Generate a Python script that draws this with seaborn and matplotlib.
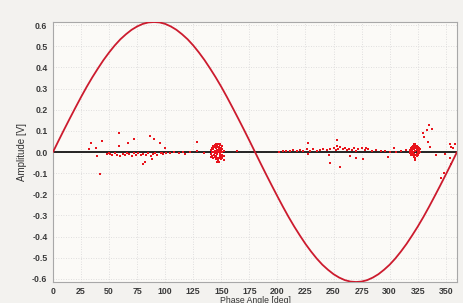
import numpy as np
import pandas as pd
import matplotlib
matplotlib.use("Agg")
import matplotlib.pyplot as plt
import seaborn as sns

# ---- data ----
phase_deg = list(range(0, 361, 5))
curve_amp = [0.000, 0.054, 0.107, 0.159, 0.210, 0.260, 0.308, 0.353, 0.395, 0.435,
             0.471, 0.504, 0.533, 0.557, 0.578, 0.594, 0.606, 0.613, 0.615, 0.613,
             0.606, 0.594, 0.578, 0.557, 0.533, 0.504, 0.471, 0.435, 0.395, 0.353,
             0.308, 0.260, 0.210, 0.159, 0.107, 0.054, 0.000, -0.054, -0.107, -0.159,
             -0.210, -0.260, -0.308, -0.353, -0.395, -0.435, -0.471, -0.504, -0.533, -0.557,
             -0.578, -0.594, -0.606, -0.613, -0.615, -0.613, -0.606, -0.594, -0.578, -0.557,
             -0.533, -0.504, -0.471, -0.435, -0.395, -0.353, -0.308, -0.260, -0.210, -0.159,
             -0.107, -0.054, 0.000]

sparse_deg = [32, 34, 38, 39, 42, 44, 50, 59, 59, 67, 72, 80, 82, 86, 90, 88, 95, 100, 97, 101,
              116, 118, 128, 128, 164, 201, 227, 227, 246, 247, 253.5, 253, 256, 264.5, 270, 276,
              279, 298.5, 304, 306, 315, 330, 333, 335, 337.5, 331, 334, 336, 341, 349, 353.5,
              355, 356.5, 358.5, 353.5, 355, 346, 348]
sparse_amp = [0.014, 0.044, 0.017, -0.020, -0.105, 0.051, -0.005, 0.092, 0.027, 0.041, 0.061,
              -0.056, -0.046, 0.077, 0.061, -0.033, 0.044, 0.017, -0.006, -0.006, 0.001, -0.009,
              0.049, 0.003, 0.006, 0.001, 0.041, -0.009, -0.014, -0.053, 0.058, 0.030, -0.072,
              -0.017, -0.027, -0.033, 0.017, -0.022, 0.020, -0.002, 0.011, 0.088, 0.104, 0.130,
              0.108, 0.069, 0.049, 0.022, -0.014, -0.009, 0.038, 0.025, 0.017, 0.036, -0.030,
              -0.058, -0.124, -0.100]

line1_deg = [48, 51, 53, 55, 57, 60, 62, 64, 66, 68, 70, 72, 74, 76, 78, 80, 83, 85, 87, 89,
             91, 93, 96, 98, 104, 108, 112, 122, 135]
line1_amp = [-0.010, -0.008, -0.015, -0.005, -0.012, -0.020, -0.008, -0.015, -0.003, -0.010,
             -0.018, -0.006, -0.012, -0.004, -0.016, -0.008, -0.012, -0.005, -0.018, -0.010,
             -0.006, -0.014, -0.004, -0.010, -0.003, 0.002, -0.004, 0.000, -0.004]

line2_deg = [205, 208, 211, 214, 217, 220, 223, 226, 229, 232, 235, 238, 241, 244, 247, 250,
             252, 254, 256, 258, 260, 262, 264, 266, 268, 270, 272, 275, 278, 281, 284, 288,
             292, 296, 300, 310]
line2_amp = [0.004, 0.006, 0.003, 0.008, 0.005, 0.010, 0.004, 0.012, 0.007, 0.013, 0.006,
             0.011, 0.015, 0.008, 0.014, 0.018, 0.010, 0.016, 0.022, 0.012, 0.018, 0.009,
             0.015, 0.011, 0.019, 0.007, 0.013, 0.017, 0.009, 0.012, 0.005, 0.008, 0.003,
             0.006, 0.002, 0.004]

cluster1_deg = [141, 142, 143, 144, 145, 146, 147, 148, 149, 150, 151, 152,
                141, 142, 143, 144, 145, 146, 147, 148, 149, 150, 151, 152,
                141, 142, 143, 144, 145, 146, 147, 148, 149, 150, 151, 152,
                142.5, 143.5, 144.5, 145.5, 146.5, 147.5, 148.5, 149.5, 150.5, 146, 148,
                144, 146.5, 148.5, 150.5, 143, 145, 147, 149, 151]
cluster1_amp = [0.010, 0.020, 0.030, 0.035, 0.040, 0.030, 0.038, 0.025, 0.032, 0.020, 0.015, 0.005,
                -0.010, 0.000, 0.012, -0.005, 0.018, 0.008, -0.002, 0.010, -0.008, 0.004, -0.012, -0.020,
                -0.025, -0.018, -0.030, -0.022, -0.035, -0.028, -0.040, -0.030, -0.025, -0.035, -0.030, -0.040,
                0.025, -0.012, 0.005, -0.018, 0.022, 0.015, -0.015, 0.012, -0.020, -0.045, -0.045,
                0.025, -0.008, 0.038, 0.028, 0.000, 0.000, 0.000, 0.000, 0.002]

cluster2_deg = [318, 319, 320, 321, 322, 323, 324, 325, 326, 327,
                318, 319, 320, 321, 322, 323, 324, 325, 326, 327,
                318.5, 319.5, 320.5, 321.5, 322.5, 323.5, 324.5, 325.5, 326.5,
                319, 320, 321, 322, 323, 324, 325, 326,
                320.5, 321.5, 322.5, 323.5, 324.5, 322, 323, 324, 323, 322.5]
cluster2_amp = [0.010, 0.018, 0.025, 0.030, 0.033, 0.035, 0.030, 0.026, 0.020, 0.012,
                -0.005, 0.002, 0.008, 0.000, 0.012, 0.005, 0.010, 0.000, 0.006, -0.002,
                0.004, 0.012, 0.016, 0.020, 0.024, 0.020, 0.018, 0.014, 0.008,
                -0.012, -0.008, -0.015, -0.010, -0.014, -0.008, -0.012, -0.006,
                0.028, 0.036, 0.040, 0.030, 0.024, -0.022, -0.028, -0.020, -0.038, -0.032]

x_ticks = list(range(0, 351, 25))
y_ticks = [-0.6, -0.5, -0.4, -0.3, -0.2, -0.1, 0.0, 0.1, 0.2, 0.3, 0.4, 0.5, 0.6]

# ---- build tables ----
curve_df = pd.DataFrame({"phase": phase_deg, "amp": curve_amp})
scatter_df = pd.DataFrame({
    "phase": sparse_deg + line1_deg + line2_deg + cluster1_deg + cluster2_deg,
    "amp": sparse_amp + line1_amp + line2_amp + cluster1_amp + cluster2_amp,
})

sns.set_style("white")
plt.rcParams["font.family"] = ["Liberation Sans", "DejaVu Sans"]

fig = plt.figure(figsize=(4.64, 3.03), dpi=100)
fig.patch.set_facecolor("#f3f2ef")
ax = fig.add_axes([53 / 464, 1 - 282 / 303, (457 - 53) / 464, (282 - 22) / 303])
ax.set_facecolor("#fbfaf7")

ax.axhline(0, color="black", lw=1.2, zorder=2)
sns.scatterplot(data=scatter_df, x="phase", y="amp", ax=ax, color="#e8141c",
                marker="s", s=3, linewidth=0, zorder=3)
sns.lineplot(data=curve_df, x="phase", y="amp", ax=ax, color="#cc1b2e",
             lw=1.3, zorder=4)

ax.set_xlim(0, 360)
ax.set_ylim(-0.615, 0.615)
ax.set_xticks(x_ticks)
ax.set_yticks(y_ticks)
ax.set_yticklabels([f"{v:.1f}" for v in y_ticks])
ax.tick_params(axis="both", labelsize=6.3, colors="#333333", length=2, width=0.6,
               pad=2, direction="out")
ax.tick_params(axis="x", pad=1.5)
for lbl in ax.get_xticklabels() + ax.get_yticklabels():
    lbl.set_fontweight("bold")
    lbl.set_color("#3a3a3a")
ax.grid(True, color="#d6d6d6", lw=0.6, ls=(0, (1, 2)))
for s in ax.spines.values():
    s.set_color("#a8a8a8")
    s.set_linewidth(0.8)

ax.set_xlabel("Phase Angle [deg]", fontsize=6.2, color="#333333")
ax.xaxis.set_label_coords(0.5, -0.052)
ax.set_ylabel("Amplitude [V]", fontsize=7, color="#333333", labelpad=4)

fig.savefig("out.png", dpi=100, facecolor=fig.get_facecolor())
